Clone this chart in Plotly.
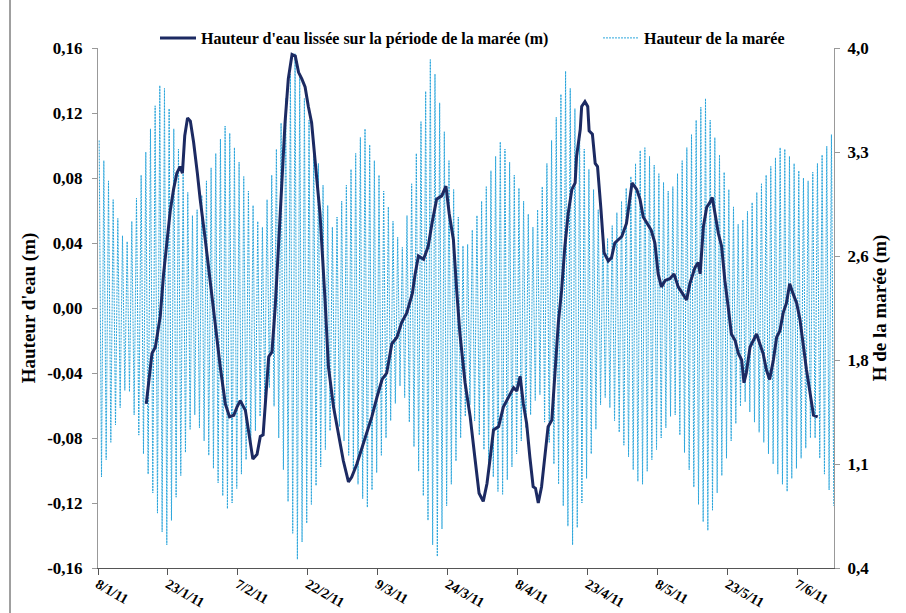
import pandas as pd
import plotly.graph_objects as go

start_date = pd.Timestamp("2011-01-08")

# Daily high / low water of the tide (m)
tide_high = [3.36, 3.22, 3.08, 2.95, 2.82, 2.70, 2.66,
             2.80, 2.96, 3.12, 3.28, 3.44, 3.60, 3.74,
             3.72, 3.58, 3.44, 3.30, 3.14, 3.00, 2.84,
             2.88, 2.98, 3.08, 3.17, 3.27, 3.37, 3.46,
             3.41, 3.31, 3.21, 3.11, 3.01, 2.91, 2.80, 2.76,
             2.95, 3.12, 3.30, 3.48, 3.65, 3.82, 3.96,
             3.80, 3.65, 3.50, 3.35, 3.20, 3.05, 2.91, 2.76,
             2.83, 2.94, 3.05, 3.16, 3.27, 3.38, 3.44,
             3.33, 3.22, 3.12, 3.01, 2.90, 2.80, 2.69, 2.62,
             2.84, 3.06, 3.27, 3.49, 3.70, 3.92,
             3.82, 3.62, 3.42, 3.22, 3.02, 2.83, 2.63,
             2.64, 2.74, 2.84, 2.94, 3.04, 3.15, 3.25, 3.35,
             3.30, 3.21, 3.12, 3.03, 2.94, 2.85, 2.76,
             2.88, 3.04, 3.20, 3.36, 3.52, 3.68, 3.84,
             3.72, 3.58, 3.44, 3.30, 3.16, 3.02, 2.88, 2.74, 2.68,
             2.77, 2.86, 2.94, 3.03, 3.11, 3.20, 3.29, 3.31,
             3.25, 3.19, 3.13, 3.07, 3.01,
             3.04, 3.13, 3.22, 3.31, 3.40, 3.50, 3.59, 3.65,
             3.50, 3.38, 3.26, 3.14, 3.02, 2.90, 2.78,
             2.81, 2.87, 2.93, 3.00, 3.06, 3.12, 3.18, 3.24, 3.31,
             3.30, 3.25, 3.20, 3.15, 3.10, 3.08,
             3.14, 3.20, 3.26, 3.32, 3.40]

tide_low = [1.03, 1.15, 1.27, 1.39, 1.51, 1.63, 1.62,
            1.46, 1.32, 1.19, 1.05, 0.92, 0.78, 0.65, 0.56,
            0.73, 0.89, 1.04, 1.20, 1.36, 1.46,
            1.37, 1.28, 1.18, 1.09, 0.99, 0.90, 0.81,
            0.85, 0.95, 1.05, 1.15, 1.25, 1.35, 1.45, 1.55, 1.65,
            1.52, 1.30, 1.08, 0.86, 0.64, 0.46,
            0.58, 0.71, 0.84, 0.97, 1.10, 1.22, 1.35, 1.47,
            1.38, 1.28, 1.18, 1.08, 0.98, 0.88, 0.82,
            0.94, 1.06, 1.18, 1.30, 1.42, 1.54, 1.66,
            1.58, 1.41, 1.24, 1.07, 0.90, 0.73, 0.56, 0.48,
            0.67, 0.83, 0.98, 1.14, 1.30, 1.45, 1.53,
            1.42, 1.32, 1.22, 1.13, 1.03, 0.93, 0.91,
            1.01, 1.10, 1.19, 1.28, 1.37, 1.46, 1.56, 1.60,
            1.41, 1.27, 1.12, 0.98, 0.83, 0.69, 0.56,
            0.68, 0.85, 1.02, 1.19, 1.36, 1.53, 1.58,
            1.51, 1.42, 1.34, 1.25, 1.17, 1.08, 1.00, 0.98,
            1.07, 1.15, 1.22, 1.30, 1.37, 1.45, 1.46,
            1.32, 1.20, 1.08, 0.96, 0.84, 0.72, 0.66,
            0.80, 0.92, 1.04, 1.16, 1.28, 1.40, 1.52, 1.55,
            1.48, 1.41, 1.34, 1.27, 1.19, 1.12, 1.05, 0.98, 0.93,
            1.02, 1.09, 1.16, 1.23, 1.30, 1.30,
            1.16, 1.05, 0.94, 0.83]

# Smoothed water height (m): days after 8/1/11 and value
smooth_day = [10.35, 11.57, 12.3, 13.35, 14.06, 14.78, 15.5, 16.2, 16.9, 17.6, 18.1, 18.6, 19.2, 19.8,
              20.5, 21.3, 21.9, 23.0, 24.1, 25.1, 26.2, 27.3, 28.2, 29.1, 29.8, 30.5, 31.6, 32.3,
              33.2, 34.1, 34.8, 35.4, 36.1, 36.6, 37.3, 38.0, 38.7, 39.4, 40.1, 40.8, 41.6, 42.3,
              43.0, 43.7, 44.4, 45.1, 45.8, 46.6, 47.6, 48.7, 49.4, 50.5, 51.6, 52.6, 53.7, 54.4,
              55.5, 56.6, 57.6, 58.7, 59.8, 60.9, 61.9, 63.0, 64.1, 65.1, 66.2, 67.4, 68.0, 68.7,
              69.8, 70.8, 71.6, 72.6, 73.7, 74.6, 75.3, 76.2, 76.9, 77.6, 78.7, 79.8, 80.8, 81.7,
              82.6, 83.4, 84.1, 84.8, 85.9, 86.9, 88.0, 89.1, 89.8, 90.5, 91.2, 91.9, 92.6, 93.3,
              93.8, 94.4, 95.1, 95.8, 96.5, 97.3, 98.0, 98.7, 99.4, 100.1, 100.8, 101.6, 102.3,
              102.6, 103.4, 103.7, 104.4, 105.0, 105.3, 106.0, 106.6, 107.1, 107.8, 108.5, 109.4,
              110.1, 110.8, 111.5, 112.3, 113.3, 114.0, 114.5, 115.5, 116.2, 116.9, 117.6, 118.6,
              119.4, 120.1, 120.8, 121.6, 122.6, 123.5, 124.4, 125.5, 126.2, 126.9, 128.0, 128.7,
              129.1, 129.8, 130.5, 131.2, 131.7, 132.3, 133.0, 133.7, 134.4, 135.1, 135.8, 136.6,
              137.3, 138.0, 138.5, 139.0, 139.8, 140.5, 141.2, 141.9, 142.6, 143.3, 144.0, 144.8,
              145.5, 146.2, 146.9, 147.6, 148.3, 149.0, 149.8, 150.5, 151.2, 151.9, 152.6, 153.4,
              154.3]
smooth_val = [-0.059, -0.028, -0.024, -0.005, 0.021, 0.042, 0.060, 0.073, 0.083, 0.087, 0.083, 0.106, 0.117, 0.115,
              0.102, 0.083, 0.067, 0.042, 0.017, -0.009, -0.036, -0.059, -0.067, -0.066, -0.061, -0.057, -0.063, -0.077,
              -0.093, -0.090, -0.079, -0.078, -0.049, -0.030, -0.027, 0.001, 0.038, 0.079, 0.114, 0.141, 0.156, 0.155,
              0.145, 0.141, 0.136, 0.124, 0.114, 0.089, 0.058, 0.004, -0.036, -0.061, -0.079, -0.094, -0.107, -0.104,
              -0.096, -0.086, -0.077, -0.067, -0.055, -0.044, -0.040, -0.022, -0.018, -0.009, -0.003, 0.009, 0.021, 0.032,
              0.030, 0.038, 0.052, 0.067, 0.069, 0.075, 0.058, 0.042, 0.011, -0.016, -0.046, -0.067, -0.092, -0.114,
              -0.119, -0.108, -0.092, -0.075, -0.073, -0.061, -0.055, -0.049, -0.051, -0.042, -0.059, -0.071, -0.092, -0.110,
              -0.111, -0.120, -0.110, -0.092, -0.073, -0.069, -0.040, -0.009, 0.011, 0.038, 0.058, 0.073, 0.077,
              0.093, 0.110, 0.124, 0.127, 0.124, 0.109, 0.107, 0.089, 0.087, 0.062, 0.034, 0.029,
              0.031, 0.040, 0.042, 0.044, 0.052, 0.067, 0.077, 0.073, 0.067, 0.056, 0.053, 0.048,
              0.040, 0.021, 0.013, 0.017, 0.018, 0.021, 0.013, 0.008, 0.005, 0.015, 0.025, 0.028,
              0.021, 0.050, 0.062, 0.065, 0.068, 0.058, 0.046, 0.038, 0.017, 0.001, -0.016, -0.020,
              -0.028, -0.032, -0.046, -0.040, -0.024, -0.020, -0.016, -0.022, -0.028, -0.038, -0.044, -0.032,
              -0.018, -0.014, -0.003, 0.003, 0.015, 0.009, 0.003, -0.007, -0.024, -0.038, -0.051, -0.066,
              -0.067]

x_tick_labels = ["8/1/11", "23/1/11", "7/2/11", "22/2/11", "9/3/11", "24/3/11",
                 "8/4/11", "23/4/11", "8/5/11", "23/5/11", "7/6/11"]
x_tick_step_days = 15
left_tick_vals = [-0.16, -0.12, -0.08, -0.04, 0.0, 0.04, 0.08, 0.12, 0.16]
left_tick_text = ["-0,16", "-0,12", "-0,08", "-0,04", "0,00", "0,04", "0,08", "0,12", "0,16"]
right_tick_vals = [0.4, 1.12, 1.84, 2.56, 3.28, 4.0]
right_tick_text = ["0,4", "1,1", "1,8", "2,6", "3,3", "4,0"]

# ---- build traces ----
tide_x, tide_y = [], []
for i, (h, l) in enumerate(zip(tide_high, tide_low)):
    day = start_date + pd.Timedelta(days=i)
    tide_x += [day + pd.Timedelta(hours=6), day + pd.Timedelta(hours=18)]
    tide_y += [h, l]

smooth_x = [start_date + pd.Timedelta(days=d) for d in smooth_day]
x_tick_vals = [start_date + pd.Timedelta(days=x_tick_step_days * k) for k in range(len(x_tick_labels))]

FONT = "Liberation Serif, Times New Roman, serif"
TICKFONT = dict(family=FONT, size=17, weight="bold", color="black")
XTICKFONT = dict(family=FONT, size=14, weight="bold", color="black")
TITLEFONT = dict(family=FONT, size=19, weight="bold", color="black")
LEGFONT = dict(family=FONT, size=16, weight="bold", color="black")

fig = go.Figure()
fig.add_trace(go.Scatter(
    x=tide_x, y=tide_y, mode="lines", name="Hauteur de la marée",
    line=dict(color="#2BA6DC", width=1, dash="2px,1px"), yaxis="y", legend="legend2"))
fig.add_trace(go.Scatter(
    x=smooth_x, y=smooth_val, mode="lines",
    name="Hauteur d'eau lissée sur la période de la marée (m)",
    line=dict(color="#1C2A62", width=3), yaxis="y2", legend="legend"))

fig.update_layout(
    width=906, height=613,
    margin=dict(l=98, r=72, t=48, b=45, autoexpand=False),
    paper_bgcolor="white", plot_bgcolor="white",
    font=dict(family=FONT, size=15, color="black"),
    showlegend=True,
    legend=dict(orientation="h", x=155 / 906, xanchor="left", xref="container",
                y=1 - 21 / 613, yanchor="top", yref="container",
                font=LEGFONT, bgcolor="rgba(0,0,0,0)", itemwidth=36),
    legend2=dict(orientation="h", x=598 / 906, xanchor="left", xref="container",
                 y=1 - 21 / 613, yanchor="top", yref="container",
                 font=LEGFONT, bgcolor="rgba(0,0,0,0)", itemwidth=36),
    xaxis=dict(type="date", range=[start_date, start_date + pd.Timedelta(days=157.8)],
               tickvals=x_tick_vals, ticktext=x_tick_labels, tickangle=30,
               tickfont=XTICKFONT, automargin=False, ticklabelstandoff=-4,
               showgrid=False, zeroline=False, showline=True, linecolor="#555555", linewidth=1,
               ticks="outside", ticklen=6, tickcolor="#555555"),
    yaxis=dict(side="right", range=[0.4, 4.0], tickvals=right_tick_vals, ticktext=right_tick_text,
               tickfont=TICKFONT, automargin=False, ticklabelstandoff=4,
               title=dict(text="H de la marée (m)", font=TITLEFONT, standoff=4),
               showgrid=False, zeroline=False, showline=True, linecolor="#999999", linewidth=1,
               ticks="outside", ticklen=5, tickcolor="#999999"),
    yaxis2=dict(side="left", overlaying="y", range=[-0.16, 0.16], tickvals=left_tick_vals,
                ticktext=left_tick_text, tickfont=TICKFONT, automargin=False, ticklabelstandoff=6,
                title=dict(text="Hauteur d'eau (m)", font=TITLEFONT, standoff=6),
                showgrid=False, zeroline=False, showline=True, linecolor="#999999", linewidth=1,
                ticks="outside", ticklen=5, tickcolor="#999999"),
)

# chart-area frame line at the left edge of the picture
fig.add_shape(type="line", xref="paper", yref="paper",
              x0=(10 - 98) / (906 - 98 - 72), x1=(10 - 98) / (906 - 98 - 72),
              y0=-45 / (613 - 48 - 45), y1=(613 - 45) / (613 - 48 - 45),
              line=dict(color="#404040", width=1), layer="above")

fig.write_html("out.html", config={"displayModeBar": False},
               post_script="document.body.style.margin='0px';document.body.style.overflow='hidden';")
